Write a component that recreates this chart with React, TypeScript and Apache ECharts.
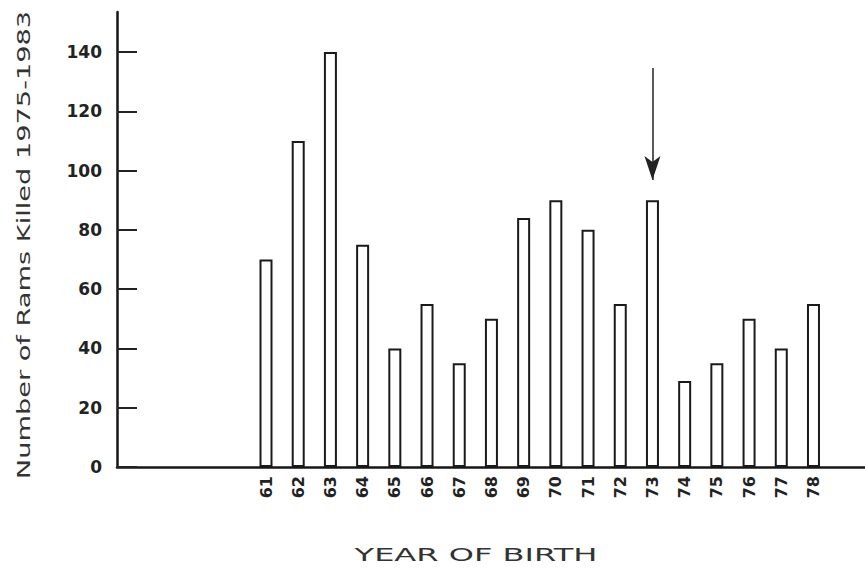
import React, { useEffect, useRef } from "react";
import * as echarts from "echarts";

const years = [61, 62, 63, 64, 65, 66, 67, 68, 69, 70, 71, 72, 73, 74, 75, 76, 77, 78];
const ramsKilled = [70, 110, 140, 75, 40, 55, 35, 50, 84, 90, 80, 55, 90, 29, 35, 50, 40, 55];
const yTickValues = [0, 20, 40, 60, 80, 100, 120, 140];
const arrowYear = 73;
const arrowFrom = 134.6;
const arrowTo = 96.8;

const xTitle = "YEAR OF BIRTH";
const yTitle = "Number of Rams Killed 1975-1983";

export default function App() {
  const ref = useRef<HTMLDivElement>(null);
  useEffect(() => {
    if (!ref.current) return;
    const chart = echarts.init(ref.current, undefined, { renderer: "svg" });
    const font = "DejaVu Sans";
    chart.setOption({
      animation: false,
      backgroundColor: "#ffffff",
      grid: { left: 117, right: 0, top: 12, bottom: 104, outerBoundsMode: "none" },
      xAxis: {
        type: "value",
        min: 56.373,
        max: 79.6,
        axisLine: { show: true, lineStyle: { color: "#161616", width: 2.5 } },
        axisTick: { show: false },
        splitLine: { show: false },
        axisLabel: {
          customValues: years,
          rotate: 90,
          margin: 9,
          fontSize: 16,
          fontWeight: "bold",
          fontFamily: font,
          color: "#222",
        },
      },
      yAxis: {
        type: "value",
        min: 0,
        max: 153.5,
        axisLine: { show: true, lineStyle: { color: "#161616", width: 2.5 } },
        axisTick: {
          show: true,
          inside: true,
          length: 20,
          customValues: yTickValues,
          lineStyle: { color: "#222", width: 2 },
        },
        splitLine: { show: false },
        axisLabel: {
          customValues: yTickValues,
          margin: 15,
          fontSize: 17,
          fontWeight: "bold",
          fontFamily: font,
          color: "#222",
        },
      },
      series: [
        {
          type: "bar",
          data: years.map((y, i) => [y, ramsKilled[i]]),
          barWidth: 13,
          itemStyle: { color: "#ffffff", borderColor: "#1a1a1a", borderWidth: 2 },
          markLine: {
            silent: true,
            symbol: ["none", "arrow"],
            symbolSize: [12, 24],
            label: { show: false },
            lineStyle: { color: "#222", width: 1.5, type: "solid" },
            data: [[{ coord: [arrowYear, arrowFrom] }, { coord: [arrowYear, arrowTo] }]],
          },
        },
      ],
      graphic: [
        {
          type: "text",
          x: 24,
          y: 245,
          rotation: Math.PI / 2,
          scaleX: 1.6,
          style: {
            text: yTitle,
            fontSize: 17,
            fontFamily: font,
            fill: "#333",
            align: "center",
            verticalAlign: "middle",
          },
        },
        {
          type: "text",
          x: 476,
          y: 555,
          scaleX: 1.78,
          style: {
            text: xTitle,
            fontSize: 18,
            fontFamily: font,
            fill: "#333",
            align: "center",
            verticalAlign: "middle",
          },
        },
      ],
    });
    return () => chart.dispose();
  }, []);
  return (
    <div
      ref={ref}
      style={{ position: "fixed", left: 0, top: 0, width: 865, height: 571, background: "#fff" }}
    />
  );
}
